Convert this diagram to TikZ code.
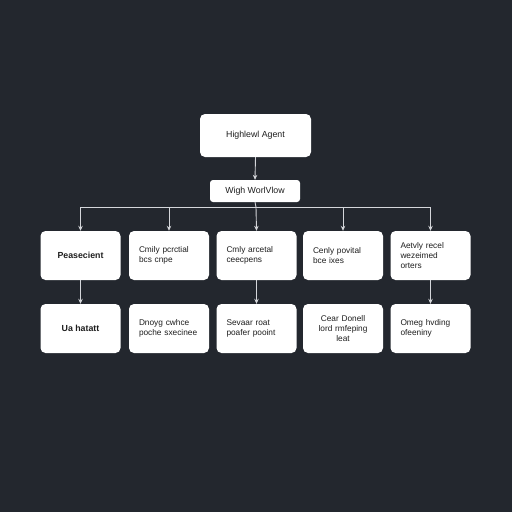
\documentclass[tikz,border=0pt]{standalone}
\usepackage{fontspec}
\setmainfont{Liberation Sans}
\usetikzlibrary{arrows.meta}
\definecolor{bg}{HTML}{23272E}
\definecolor{ln}{HTML}{D4D6DA}
\definecolor{tx}{HTML}{1E1E1E}
\begin{document}
\begin{tikzpicture}[x=1pt,y=-1pt,
  box/.style={draw=none,fill=white,rounded corners=5pt,minimum width=80pt,minimum height=49pt,inner sep=0pt,text=tx},
  txt/.style={box,font=\fontsize{8.3}{10}\selectfont,align=left,text width=60pt},
  bold/.style={box,font=\bfseries\fontsize{8.8}{10}\selectfont,align=center},
  conn/.style={draw=ln,line width=0.9pt,-{Stealth[length=5pt,width=4.5pt]}},
  plain/.style={draw=ln,line width=0.9pt}]
\fill[bg] (0,0) rectangle (512,512);
\node[box,minimum width=111pt,minimum height=43pt,font=\fontsize{8.8}{10}\selectfont] (top) at (255.5,135.5) {Highlewl Agent};
\node[box,minimum width=90pt,minimum height=22pt,rounded corners=3pt,font=\fontsize{8.8}{10}\selectfont] (wf) at (255,191) {Wigh WorlVlow};
% row 1
\node[bold] (a1) at (80.5,255.5) {Peasecient};
\node[txt] (b1) at (169,255.5) {Cmily pcrctial\\bcs cnpe};
\node[txt] (c1) at (256.5,255.5) {Cmly arcetal\\ceecpens};
\node[txt] (d1) at (343,255.5) {Cenly povital\\bce ixes};
\node[txt] (e1) at (430.5,255.5) {Aetvly recel\\wezeimed\\orters};
% row 2
\node[bold] (a2) at (80.5,328.5) {Ua hatatt};
\node[txt] (b2) at (169,328.5) {Dnoyg cwhce\\poche sxecinee};
\node[txt] (c2) at (256.5,328.5) {Sevaar roat\\poafer pooint};
\node[txt,align=center] (d2) at (343,328.5) {Cear Donell\\lord rmfeping\\leat};
\node[txt] (e2) at (430.5,328.5) {Omeg hvding\\ofeeniny};
% connectors
\draw[conn] (top.south) -- (wf.north);
\coordinate (bus) at (256,207);
\coordinate (busL) at (80.5,207);
\coordinate (busR) at (430.5,207);
\draw[plain] (wf.south) -- (bus);
\draw[plain] (busL) -- (busR);
\draw[conn] (busL) -- (a1.north);
\draw[conn] (b1.north |- bus) -- (b1.north);
\draw[conn] (bus) -- (c1.north);
\draw[conn] (d1.north |- bus) -- (d1.north);
\draw[conn] (busR) -- (e1.north);
\draw[conn] (a1.south) -- (a2.north);
\draw[conn] (c1.south) -- (c2.north);
\draw[conn] (e1.south) -- (e2.north);
\end{tikzpicture}
\end{document}
